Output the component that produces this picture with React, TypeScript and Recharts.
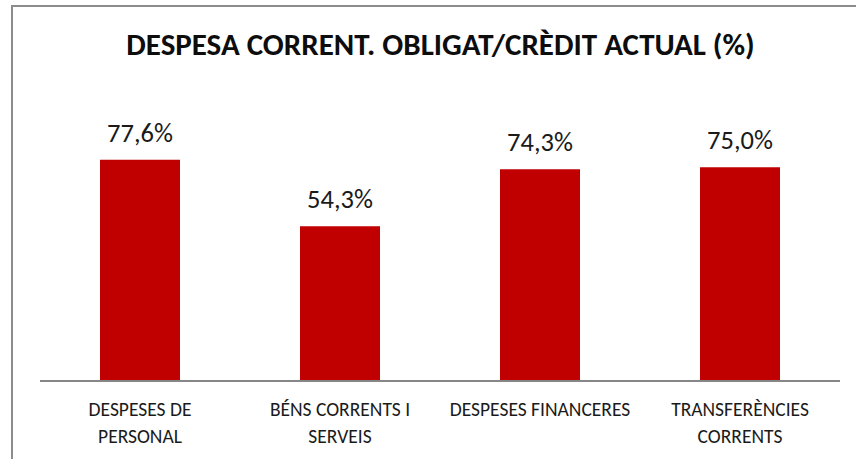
import React from 'react'
import {BarChart, Bar, XAxis, YAxis, LabelList} from 'recharts';

const categories = ['DESPESES DE|PERSONAL', 'BÉNS CORRENTS I|SERVEIS', 'DESPESES FINANCERES', 'TRANSFERÈNCIES|CORRENTS'];
const values = [77.6, 54.3, 74.3, 75.0];
const labels = ['77,6%', '54,3%', '74,3%', '75,0%'];

const data = categories.map((c, i) => ({name: c, value: values[i], label: labels[i]}));

const FONT = 'Carlito, Calibri, "Open Sans", "Noto Sans", sans-serif';

const CatTick = ({x, y, payload}: any) => {
    const lines = String(payload.value).split('|');
    return (
      <text x={x} y={y} textAnchor="middle" fontFamily={FONT} fontSize={19.5} fill="#1a1a1a">
        {lines.map((l, i) => (
          <tspan key={i} x={x} dy={i === 0 ? 27 : 26.5}>{l}</tspan>
        ))}
      </text>
    )
};

const TopLabel = ({x, y, width, value}: any) => (
  <text x={x + width / 2} y={y - 18} textAnchor="middle" fontFamily={FONT} fontSize={26.5} fill="#1a1a1a">{value}</text>
);

const App = () => {
    return (
    <div style={{position: 'absolute', left: 0, top: 0, width: 856, height: 459, overflow: 'hidden', background: '#fff'}}>
      <div style={{position: 'absolute', left: 11, top: 5, width: 900, height: 500, borderLeft: '2px solid #8c8c8c', borderTop: '2px solid #8c8c8c'}}/>
      <svg width={856} height={80} style={{position: 'absolute', left: 0, top: 0}}>
        <text x={440.5} y={55} textAnchor="middle" fontFamily={FONT} fontWeight="bold" fontSize={31} fill="#0d0d0d">
          DESPESA CORRENT. OBLIGAT/CRÈDIT ACTUAL (%)
        </text>
      </svg>
      <BarChart width={856} height={459} data={data} margin={{top: 96, right: 16, left: 40, bottom: 0}} style={{position: 'absolute', left: 0, top: 0}}>
        <XAxis dataKey='name' height={78} tickLine={false} axisLine={{stroke: '#868686', strokeWidth: 2}} tick={<CatTick/>} interval={0}/>
        <YAxis hide domain={[0, 100]}/>
        <Bar dataKey='value' fill='#C00000' barSize={80} isAnimationActive={false}>
          <LabelList dataKey='label' content={<TopLabel/>}/>
        </Bar>
      </BarChart>
    </div>
  )
};

export default App;
